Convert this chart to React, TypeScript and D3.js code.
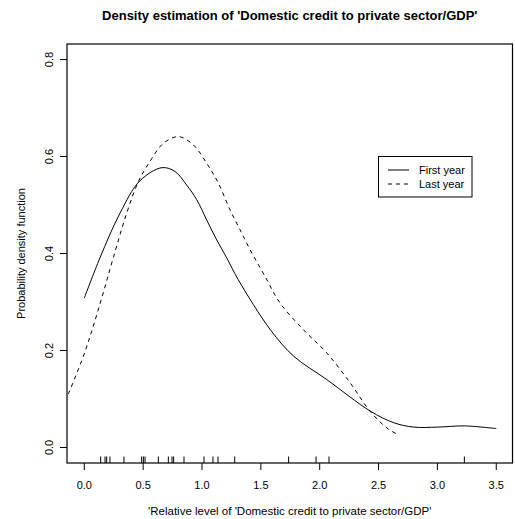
import React, { useEffect, useRef } from 'react';
import * as d3 from 'd3';

// density curves
const firstX = [0, 0.133, 0.303, 0.473, 0.66, 0.771, 0.87, 0.955, 1.04, 1.125, 1.21, 1.308, 1.58, 1.78, 2.06, 2.43, 2.63, 2.8, 3.0, 3.23, 3.5];
const firstY = [0.308, 0.391, 0.483, 0.55, 0.577, 0.569, 0.541, 0.511, 0.469, 0.428, 0.391, 0.346, 0.243, 0.188, 0.14, 0.075, 0.051, 0.042, 0.042, 0.0445, 0.039];

const lastX = [-0.136, -0.008, 0.076, 0.161, 0.246, 0.36, 0.459, 0.558, 0.671, 0.8, 0.926, 1.04, 1.139, 1.238, 1.323, 1.408, 1.535, 1.663, 1.861, 2.06, 2.257, 2.427, 2.583, 2.68];
const lastY = [0.11, 0.188, 0.25, 0.319, 0.391, 0.483, 0.548, 0.59, 0.627, 0.641, 0.624, 0.586, 0.545, 0.49, 0.449, 0.408, 0.353, 0.298, 0.243, 0.195, 0.134, 0.075, 0.038, 0.025];

// rug of observations
const rugValues = [0.139, 0.176, 0.19, 0.218, 0.337, 0.487, 0.502, 0.516, 0.629, 0.714, 0.745, 0.759, 0.847, 1.017, 1.093, 1.136, 1.278, 1.736, 1.969, 2.079, 3.229];

const xTicks = [0, 0.5, 1, 1.5, 2, 2.5, 3, 3.5];
const yTicks = [0, 0.2, 0.4, 0.6, 0.8];

const seriesNames = ['First year', 'Last year'];

const App = () => {
  const chartRef = useRef<HTMLDivElement>(null);

  useEffect(() => {
    const W = 515;
    const H = 519;
    const box = { left: 67, right: 512.5, top: 44, bottom: 463 };
    const font = 'Liberation Sans, Arial, Helvetica, sans-serif';

    d3.select(chartRef.current).selectAll('*').remove();
    const svg = d3
      .select(chartRef.current)
      .append('svg')
      .attr('width', W)
      .attr('height', H)
      .style('display', 'block')
      .style('font-family', font);

    const xScale = d3.scaleLinear().domain([-0.147, 3.638]).range([box.left, box.right]);
    const yScale = d3.scaleLinear().domain([-0.032, 0.832]).range([box.bottom, box.top]);

    const line = d3
      .line<[number, number]>()
      .x((d) => xScale(d[0]))
      .y((d) => yScale(d[1]))
      .curve(d3.curveCatmullRom.alpha(0.5));

    const first = firstX.map((x, i) => [x, firstY[i]] as [number, number]);
    const last = lastX.map((x, i) => [x, lastY[i]] as [number, number]);

    svg.append('path')
      .datum(first)
      .attr('d', line)
      .attr('fill', 'none')
      .attr('stroke', '#000')
      .attr('stroke-width', 1);

    svg.append('path')
      .datum(last)
      .attr('d', line)
      .attr('fill', 'none')
      .attr('stroke', '#000')
      .attr('stroke-width', 1)
      .attr('stroke-dasharray', '4,4');

    // rug
    svg.selectAll('line.rug')
      .data(rugValues)
      .enter()
      .append('line')
      .attr('class', 'rug')
      .attr('x1', (d) => xScale(d))
      .attr('x2', (d) => xScale(d))
      .attr('y1', box.bottom)
      .attr('y2', box.bottom - 6.5)
      .attr('stroke', '#000')
      .attr('stroke-width', 1);

    // frame
    svg.append('rect')
      .attr('x', box.left)
      .attr('y', box.top)
      .attr('width', box.right - box.left)
      .attr('height', box.bottom - box.top)
      .attr('fill', 'none')
      .attr('stroke', '#000')
      .attr('stroke-width', 1.2);

    // x axis
    const xa = svg.append('g');
    xa.selectAll('line')
      .data(xTicks)
      .enter()
      .append('line')
      .attr('x1', (d) => xScale(d))
      .attr('x2', (d) => xScale(d))
      .attr('y1', box.bottom)
      .attr('y2', box.bottom + 7)
      .attr('stroke', '#000');
    xa.selectAll('text')
      .data(xTicks)
      .enter()
      .append('text')
      .attr('x', (d) => xScale(d))
      .attr('y', 489)
      .attr('text-anchor', 'middle')
      .attr('font-size', 11)
      .text((d) => d.toFixed(1));

    // y axis
    const ya = svg.append('g');
    ya.selectAll('line')
      .data(yTicks)
      .enter()
      .append('line')
      .attr('x1', box.left)
      .attr('x2', box.left - 7)
      .attr('y1', (d) => yScale(d))
      .attr('y2', (d) => yScale(d))
      .attr('stroke', '#000');
    ya.selectAll('text')
      .data(yTicks)
      .enter()
      .append('text')
      .attr('transform', (d) => `translate(53, ${yScale(d)}) rotate(-90)`)
      .attr('text-anchor', 'middle')
      .attr('font-size', 11)
      .text((d) => d.toFixed(1));

    // titles
    svg.append('text')
      .attr('x', (box.left + box.right) / 2)
      .attr('y', 20)
      .attr('text-anchor', 'middle')
      .attr('font-size', 13)
      .attr('font-weight', 'bold')
      .text("Density estimation of 'Domestic credit to private sector/GDP'");

    svg.append('text')
      .attr('x', (box.left + box.right) / 2)
      .attr('y', 515)
      .attr('text-anchor', 'middle')
      .attr('font-size', 11.5)
      .text("'Relative level of 'Domestic credit to private sector/GDP'");

    svg.append('text')
      .attr('transform', `translate(25, ${(box.top + box.bottom) / 2}) rotate(-90)`)
      .attr('text-anchor', 'middle')
      .attr('font-size', 11)
      .text('Probability density function');

    // legend
    const lg = svg.append('g');
    lg.append('rect')
      .attr('x', 378.5)
      .attr('y', 156.5)
      .attr('width', 93.5)
      .attr('height', 40.5)
      .attr('fill', '#fff')
      .attr('stroke', '#000');
    seriesNames.forEach((name, i) => {
      const y = 170 + i * 14;
      lg.append('line')
        .attr('x1', 388)
        .attr('x2', 409)
        .attr('y1', y)
        .attr('y2', y)
        .attr('stroke', '#000')
        .attr('stroke-dasharray', i === 1 ? '4,4' : null);
      lg.append('text')
        .attr('x', 419)
        .attr('y', y + 4)
        .attr('font-size', 11)
        .text(name);
    });
  }, []);

  return <div ref={chartRef} style={{ position: 'absolute', left: 0, top: 0 }} />;
};

export default App;
